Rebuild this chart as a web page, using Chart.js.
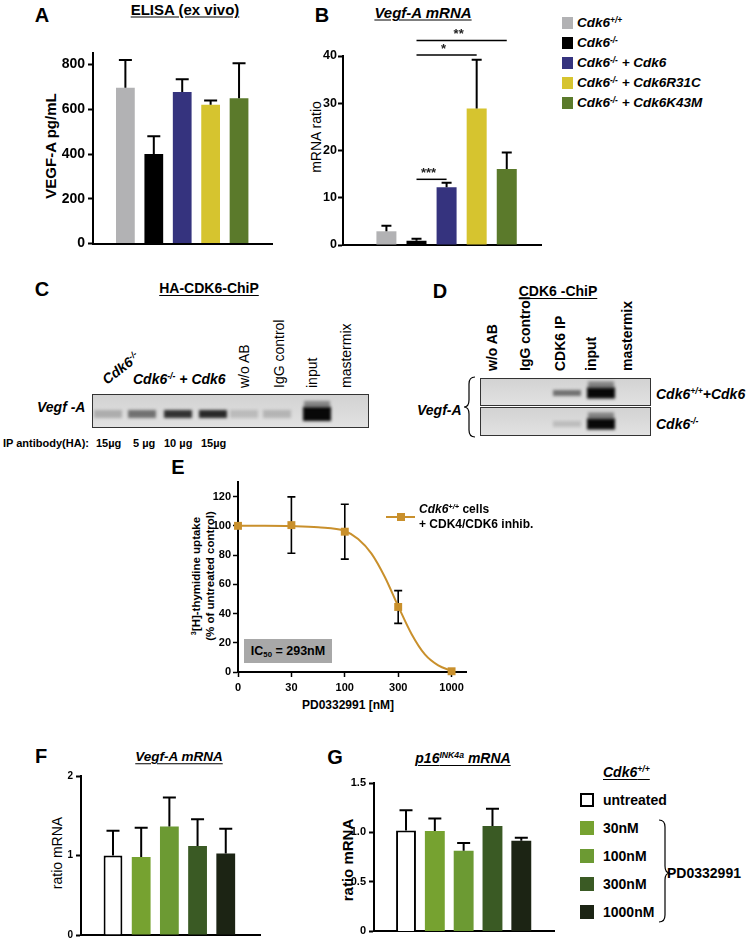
<!DOCTYPE html>
<html>
<head>
<meta charset="utf-8">
<script src="https://cdn.jsdelivr.net/npm/chart.js@4.4.1/dist/chart.umd.min.js"></script>
<style>
  body { margin: 0; background: #fff; }
  #page { position: relative; width: 746px; height: 944px; overflow: hidden; font-family: 'Liberation Sans', Arial, sans-serif; color: #000; }
  canvas { position: absolute; }
  .c, .l, .v, .r { position: absolute; white-space: nowrap; line-height: 1; }
  .c { transform: translate(-50%, -50%); }
  .l { transform: translateY(-50%); }
  .r { transform: translate(-50%, -50%) rotate(-90deg); }
  .v { transform-origin: 0 50%; transform: translateY(-50%) rotate(-90deg); }
  .let { font-size: 20px; font-weight: bold; }
  .b { font-weight: bold; }
  .i { font-style: italic; }
  .u { text-decoration: underline; text-underline-offset: 2px; }
  sup { font-size: 0.62em; vertical-align: 0.55em; line-height: 0; }
  sub { font-size: 0.62em; vertical-align: -0.25em; line-height: 0; }
  .sq { position: absolute; }
</style>
</head>
<body>
<div id="page">
  <!-- panel letters -->
  <div class="c let" style="left:42px;top:15px">A</div>
  <div class="c let" style="left:322px;top:15px">B</div>
  <div class="c let" style="left:42px;top:289px">C</div>
  <div class="c let" style="left:440px;top:291px">D</div>
  <div class="c let" style="left:178px;top:467px">E</div>
  <div class="c let" style="left:41px;top:756px">F</div>
  <div class="c let" style="left:335px;top:757px">G</div>

  <!-- A / B titles -->
  <div class="c b u" style="left:185px;top:9px;font-size:15px">ELISA (ex vivo)</div>
  <div class="r b" style="left:50px;top:146px;font-size:15px">VEGF-A pg/mL</div>
  <div class="c b i u" style="left:423px;top:12px;font-size:15px">Vegf-A mRNA</div>
  <div class="r" style="left:316px;top:137px;font-size:14px">mRNA ratio</div>

  <canvas id="chartA" width="227" height="213" style="left:49px;top:42px"></canvas>
  <canvas id="chartB" width="246" height="229" style="left:299px;top:26px"></canvas>

  <!-- A/B legend -->
  <div id="legAB"></div>

  <!-- C -->
  <div class="c b u" style="left:209px;top:288px;font-size:14px">HA-CDK6-ChiP</div>
  <div class="v b i" style="left:104px;top:381px;font-size:14px;transform:translateY(-50%) rotate(-38deg)">Cdk6<sup>-/-</sup></div>
  <div class="l b i" style="left:133px;top:379px;font-size:14px">Cdk6<sup>-/-</sup> + Cdk6</div>
  <div class="v" style="left:244px;top:388px;font-size:14px">w/o AB</div>
  <div class="v" style="left:279px;top:388px;font-size:14px">IgG control</div>
  <div class="v" style="left:312px;top:388px;font-size:14px">input</div>
  <div class="v" style="left:346px;top:388px;font-size:14px">mastermix</div>
  <div class="l b i" style="left:37px;top:407px;font-size:14px">Vegf -A</div>
  <canvas id="gelC" width="277" height="34" style="left:92px;top:394px"></canvas>
  <div class="l b" style="left:3px;top:443px;font-size:11px">IP antibody(HA):</div>
  <div class="l b" style="left:96px;top:443px;font-size:11px">15µg</div>
  <div class="l b" style="left:133px;top:443px;font-size:11px">5 µg</div>
  <div class="l b" style="left:164px;top:443px;font-size:11px">10 µg</div>
  <div class="l b" style="left:201px;top:443px;font-size:11px">15µg</div>

  <!-- D -->
  <div class="c b u" style="left:558px;top:291px;font-size:14px">CDK6 -ChiP</div>
  <div class="v b" style="left:492px;top:371px;font-size:14px">w/o AB</div>
  <div class="v b" style="left:525px;top:371px;font-size:14px">IgG control</div>
  <div class="v b" style="left:560px;top:371px;font-size:14px">CDK6 IP</div>
  <div class="v b" style="left:591px;top:371px;font-size:14px">input</div>
  <div class="v b" style="left:627px;top:371px;font-size:14px">mastermix</div>
  <canvas id="gelD1" width="171" height="28" style="left:480px;top:378px"></canvas>
  <canvas id="gelD2" width="171" height="29" style="left:480px;top:407px"></canvas>
  <div class="l b i" style="left:417px;top:410px;font-size:14px">Vegf-A</div>
  <div class="l b i" style="left:656px;top:394px;font-size:14px">Cdk6<sup>+/+</sup>+Cdk6</div>
  <div class="l b i" style="left:656px;top:424px;font-size:14px">Cdk6<sup>-/-</sup></div>

  <!-- E -->
  <div class="r b" style="left:197px;top:576px;font-size:11.5px"><sup>3</sup>[H]-thymidine uptake</div>
  <div class="r b" style="left:211px;top:576px;font-size:11.5px">(% of untreated control)</div>
  <canvas id="chartE" width="276" height="226" style="left:198px;top:472px"></canvas>
  <div class="c b" style="left:348px;top:705px;font-size:12px">PD0332991 [nM]</div>
  <div style="position:absolute;left:244px;top:639px;width:88px;height:24px;background:#a8a8a8"></div>
  <div class="c b" style="left:288px;top:651px;font-size:12.5px">IC<sub>50</sub> = 293nM</div>
  <div style="position:absolute;left:386px;top:516px;width:29px;height:2px;background:#c9902c"></div>
  <div style="position:absolute;left:397px;top:513px;width:8px;height:8px;background:#c9902c"></div>
  <div class="l b" style="left:419px;top:509px;font-size:12px"><span class="i">Cdk6<sup>+/+</sup></span> cells</div>
  <div class="l b" style="left:419px;top:524px;font-size:12px">+ CDK4/CDK6 inhib.</div>

  <!-- F / G -->
  <div class="c b i u" style="left:179px;top:757px;font-size:13.5px">Vegf-A mRNA</div>
  <div class="r" style="left:57px;top:853px;font-size:14px">ratio mRNA</div>
  <canvas id="chartF" width="223" height="178" style="left:41px;top:766px"></canvas>
  <div class="c b i u" style="left:463px;top:758px;font-size:14px">p16<sup>INK4a</sup> mRNA</div>
  <div class="r b" style="left:347px;top:860px;font-size:15px">ratio mRNA</div>
  <canvas id="chartG" width="224" height="168" style="left:334px;top:773px"></canvas>

  <div class="l b i u" style="left:603px;top:772px;font-size:14px">Cdk6<sup>+/+</sup></div>
  <div id="legG"></div>
  <div class="l b" style="left:667px;top:873px;font-size:14px">PD0332991</div>

  <svg width="746" height="944" style="position:absolute;left:0;top:0;pointer-events:none">
    <path d="M475,377 Q469,377 469,384 L469,400 Q469,407 464,407 Q469,407 469,414 L469,430 Q469,437 475,437" fill="none" stroke="#000" stroke-width="1.2"/>
    <path d="M659,820 Q665,820 665,827 L665,866 Q665,873 670,873 Q665,873 665,880 L665,915 Q665,922 659,922" fill="none" stroke="#000" stroke-width="1.2"/>
  </svg>
</div>

<script>
// ---- data ----
const genotypes = ['Cdk6<sup>+/+</sup>', 'Cdk6<sup>-/-</sup>', 'Cdk6<sup>-/-</sup> + Cdk6', 'Cdk6<sup>-/-</sup> + Cdk6R31C', 'Cdk6<sup>-/-</sup> + Cdk6K43M'];
const genoColors = ['#b2b2b4', '#000000', '#35337e', '#d6c42f', '#5b7a2b'];

const elisaVals = [696, 400, 677, 620, 650];
const elisaErr = [125, 80, 58, 20, 156];
const elisaTicks = [0, 200, 400, 600, 800];

const vegfVals = [2.9, 0.9, 12.2, 28.9, 16.1];
const vegfErr = [1.2, 0.4, 1.0, 10.3, 3.5];
const vegfTicks = [0, 10, 20, 30, 40];
// [from group, to group, height, label]
const sigPairs = [[1, 2, 13.9, '***'], [1, 3, 40.2, '*'], [1, 4, 43.3, '**']];

const doses = ['0', '30', '100', '300', '1000'];
const uptakeVals = [100, 100.5, 96, 44.5, 0.5];
const uptakeErr = [0, 19.3, 18.8, 11.2, 0];
const uptakeTicks = [0, 10, 20, 30, 40, 50, 60, 70, 80, 90, 100, 110, 120];
// fitted curve (axis position, value)
const fitPos = [0, 0.5, 1, 1.5, 2, 2.25, 2.5, 2.75, 3, 3.25, 3.5, 3.75, 4];
const fitVals = [100, 100, 99.8, 99, 96.5, 91, 81, 65, 45, 26, 12, 4.5, 0.8];

const treatments = ['untreated', '30nM', '100nM', '300nM', '1000nM'];
const treatColors = ['#ffffff', '#76a230', '#6c9a33', '#3a5a24', '#1c2414'];
const vegfTreatVals = [1.0, 0.98, 1.365, 1.12, 1.025];
const vegfTreatErr = [0.31, 0.37, 0.365, 0.335, 0.31];
const vegfTreatTicks = [0, 1, 2];
const p16Vals = [1.02, 1.015, 0.815, 1.066, 0.916];
const p16Err = [0.205, 0.125, 0.078, 0.174, 0.03];
const p16Ticks = [0, 0.5, 1.0, 1.5];

// gel band intensities per lane
const gelC = [0.22, 0.5, 0.8, 0.85, 0.15, 0.18, 1, 0];
const gelD1 = [0, 0, 0.5, 1, 0];
const gelD2 = [0, 0, 0.14, 1, 0];

Chart.defaults.font.family = "'Liberation Sans', Arial, sans-serif";
Chart.defaults.color = '#000';

// error bars drawn through the scales
const errorBars = {
  id: 'errorBars',
  beforeDatasetsDraw(chart, args, opts) { if (opts.before) draw(chart, opts); },
  afterDatasetsDraw(chart, args, opts) { if (!opts.before) draw(chart, opts); }
};
function draw(chart, opts) {
  if (!opts.errors) return;
  const ctx = chart.ctx, ys = chart.scales.y;
  const ds = opts.dataset || 0;
  const meta = chart.getDatasetMeta(ds);
  const data = chart.data.datasets[ds].data;
  ctx.save();
  ctx.strokeStyle = '#000';
  ctx.lineWidth = opts.width || 2;
  meta.data.forEach((el, i) => {
    const e = opts.errors[i];
    if (!e) return;
    const v = data[i].y;
    const top = ys.getPixelForValue(v + e);
    const bot = opts.both ? ys.getPixelForValue(v - e) : el.y;
    const h = opts.cap / 2;
    ctx.beginPath();
    ctx.moveTo(el.x, bot); ctx.lineTo(el.x, top);
    ctx.moveTo(el.x - h, top); ctx.lineTo(el.x + h, top);
    if (opts.both) { ctx.moveTo(el.x - h, bot); ctx.lineTo(el.x + h, bot); }
    ctx.stroke();
  });
  ctx.restore();
}

// significance brackets for panel B
const sigLines = {
  id: 'sigLines',
  afterDraw(chart) {
    const ctx = chart.ctx, xs = chart.scales.x, ys = chart.scales.y;
    ctx.save();
    ctx.strokeStyle = '#000';
    ctx.lineWidth = 1.5;
    ctx.fillStyle = '#222';
    ctx.font = "bold 13px 'Liberation Sans', Arial, sans-serif";
    ctx.textAlign = 'center';
    ctx.textBaseline = 'middle';
    sigPairs.forEach(([a, b, y, lab]) => {
      const x1 = xs.getPixelForValue(a), x2 = xs.getPixelForValue(b), yy = ys.getPixelForValue(y);
      ctx.beginPath(); ctx.moveTo(x1, yy); ctx.lineTo(x2, yy); ctx.stroke();
      ctx.fillText(lab, (x1 + x2) / 2 - 3, yy - 6);
    });
    ctx.restore();
  }
};

function barChart(id, vals, errs, colors, ticks, o) {
  return new Chart(document.getElementById(id), {
    type: 'bar',
    data: {
      datasets: [{
        data: vals.map((v, i) => ({ x: i, y: v })),
        backgroundColor: colors,
        borderColor: '#000',
        borderWidth: o.borders || 0,
        categoryPercentage: 1,
        barPercentage: o.bp
      }]
    },
    options: {
      responsive: false,
      animation: false,
      layout: { padding: { top: o.padTop, right: 4, bottom: o.padBottom, left: 0 } },
      plugins: {
        legend: { display: false },
        tooltip: { enabled: false },
        errorBars: { errors: errs, cap: o.cap }
      },
      scales: {
        x: {
          type: 'linear', min: o.xMin, max: o.xMax,
          afterBuildTicks: s => { s.ticks = vals.map((v, i) => ({ value: i })); },
          afterFit: s => { s.height = 0; },
          ticks: { display: false },
          grid: { display: false },
          border: { color: '#000', width: 2 }
        },
        y: {
          min: 0, max: o.yMax,
          afterBuildTicks: s => { s.ticks = ticks.map(v => ({ value: v })); },
          afterFit: s => { s.width = o.yW; },
          ticks: { font: { size: o.fs, weight: 'bold' }, padding: o.tp || 3, callback: o.fmt || (v => v) },
          grid: { drawOnChartArea: false, tickLength: 5, tickColor: '#000', tickWidth: 2 },
          border: { color: '#000', width: 2 }
        }
      }
    },
    plugins: o.extra ? [errorBars, o.extra] : [errorBars]
  });
}

barChart('chartA', elisaVals, elisaErr, genoColors, elisaTicks,
  { bp: 0.66, cap: 13, xMin: -0.51, xMax: 4.53, yMax: 850, yW: 44, fs: 14, padTop: 10, padBottom: 10 });
barChart('chartB', vegfVals, vegfErr, genoColors, vegfTicks,
  { bp: 0.665, cap: 10, xMin: -0.785, xMax: 4.48, yMax: 40, yW: 44, fs: 12.5, tp: 1, padTop: 30, padBottom: 10, extra: sigLines });
barChart('chartF', vegfTreatVals, vegfTreatErr, treatColors, vegfTreatTicks,
  { bp: 0.667, cap: 13, xMin: -0.5, xMax: 4.58, yMax: 2, yW: 40, fs: 10, padTop: 10, padBottom: 6, borders: [2, 0, 0, 0, 0] });
barChart('chartG', p16Vals, p16Err, treatColors, p16Ticks,
  { bp: 0.69, cap: 13, xMin: -0.486, xMax: 4.51, yMax: 1.5, yW: 40, fs: 11, padTop: 10, padBottom: 8, borders: [2, 0, 0, 0, 0],
    fmt: v => (v === 0 ? '0' : v.toFixed(1)) });

// dose response
const gold = '#c9902c';
new Chart(document.getElementById('chartE'), {
  type: 'line',
  data: {
    datasets: [{
      data: fitPos.map((p, i) => ({ x: p, y: fitVals[i] })),
      borderColor: gold, borderWidth: 2, pointRadius: 0,
      cubicInterpolationMode: 'monotone', fill: false, clip: false
    }, {
      data: uptakeVals.map((v, i) => ({ x: i, y: v })),
      showLine: false, pointStyle: 'rect', pointRadius: 5.6,
      backgroundColor: gold, borderColor: gold, borderWidth: 0, clip: false
    }]
  },
  options: {
    responsive: false,
    animation: false,
    layout: { padding: { top: 10, right: 8, bottom: 2, left: 0 } },
    plugins: {
      legend: { display: false },
      tooltip: { enabled: false },
      errorBars: { errors: uptakeErr, cap: 8, both: true, dataset: 1, width: 1.6, before: true }
    },
    scales: {
      x: {
        type: 'linear', min: 0, max: 4.27,
        afterBuildTicks: s => { s.ticks = doses.map((d, i) => ({ value: i })); },
        afterFit: s => { s.height = 24; },
        ticks: { font: { size: 11, weight: 'bold' }, padding: 4, maxRotation: 0, callback: v => doses[v] },
        grid: { drawOnChartArea: false, tickLength: 5, tickColor: '#000', tickWidth: 1.5 },
        border: { color: '#000', width: 2 }
      },
      y: {
        min: 0, max: 130,
        afterBuildTicks: s => { s.ticks = uptakeTicks.map(v => ({ value: v })); },
        afterFit: s => { s.width = 40; },
        ticks: { font: { size: 11, weight: 'bold' }, padding: 2, callback: v => (v % 20 === 0 ? v : '') },
        grid: { drawOnChartArea: false, tickLength: 5, tickColor: '#000', tickWidth: 1.5 },
        border: { color: '#000', width: 2 }
      }
    }
  },
  plugins: [errorBars]
});

// gels
function drawGel(id, lanes, xs, bandY, bandH, bigH) {
  const cv = document.getElementById(id), ctx = cv.getContext('2d');
  const w = cv.width, h = cv.height;
  const bg = ctx.createLinearGradient(0, 0, 0, h);
  bg.addColorStop(0, '#d2d2d2');
  bg.addColorStop(1, '#e2e2e2');
  ctx.fillStyle = bg;
  ctx.fillRect(0, 0, w, h);
  ctx.filter = 'blur(1.8px)';
  lanes.forEach((a, i) => {
    if (!a) return;
    const bh = a === 1 ? bigH : bandH;
    ctx.fillStyle = `rgba(8,8,8,${a})`;
    ctx.fillRect(xs[i] - 14, bandY - bh / 2, 28, bh);
    if (a === 1) {
      ctx.fillStyle = 'rgba(8,8,8,0.4)';
      ctx.fillRect(xs[i] - 13, bandY - bh / 2 - 6, 26, 7);
    }
  });
  ctx.filter = 'none';
  ctx.strokeStyle = '#333';
  ctx.lineWidth = 1;
  ctx.strokeRect(0.5, 0.5, w - 1, h - 1);
}
drawGel('gelC', gelC, [16, 50, 86, 121, 152, 185, 225, 258], 20, 8, 14);
drawGel('gelD1', gelD1, [19, 53, 87, 121, 155], 15, 6, 11);
drawGel('gelD2', gelD2, [19, 53, 87, 121, 155], 17, 6, 11);

// legends
const legAB = document.getElementById('legAB');
genotypes.forEach((g, i) => {
  const y = 23 + i * 20;
  legAB.insertAdjacentHTML('beforeend',
    `<div class="sq" style="left:562px;top:${y - 6}px;width:11px;height:12px;background:${genoColors[i]}"></div>` +
    `<div class="l b i" style="left:577px;top:${y}px;font-size:13.5px">${g}</div>`);
});
const legG = document.getElementById('legG');
treatments.forEach((t, i) => {
  const y = 800 + i * 28;
  const border = i === 0 ? 'border:2px solid #000;box-sizing:border-box;' : '';
  legG.insertAdjacentHTML('beforeend',
    `<div class="sq" style="left:580px;top:${y - 7}px;width:14px;height:14px;background:${treatColors[i]};${border}"></div>` +
    `<div class="l b" style="left:603px;top:${y}px;font-size:14px">${t}</div>`);
});
</script>
</body>
</html>
